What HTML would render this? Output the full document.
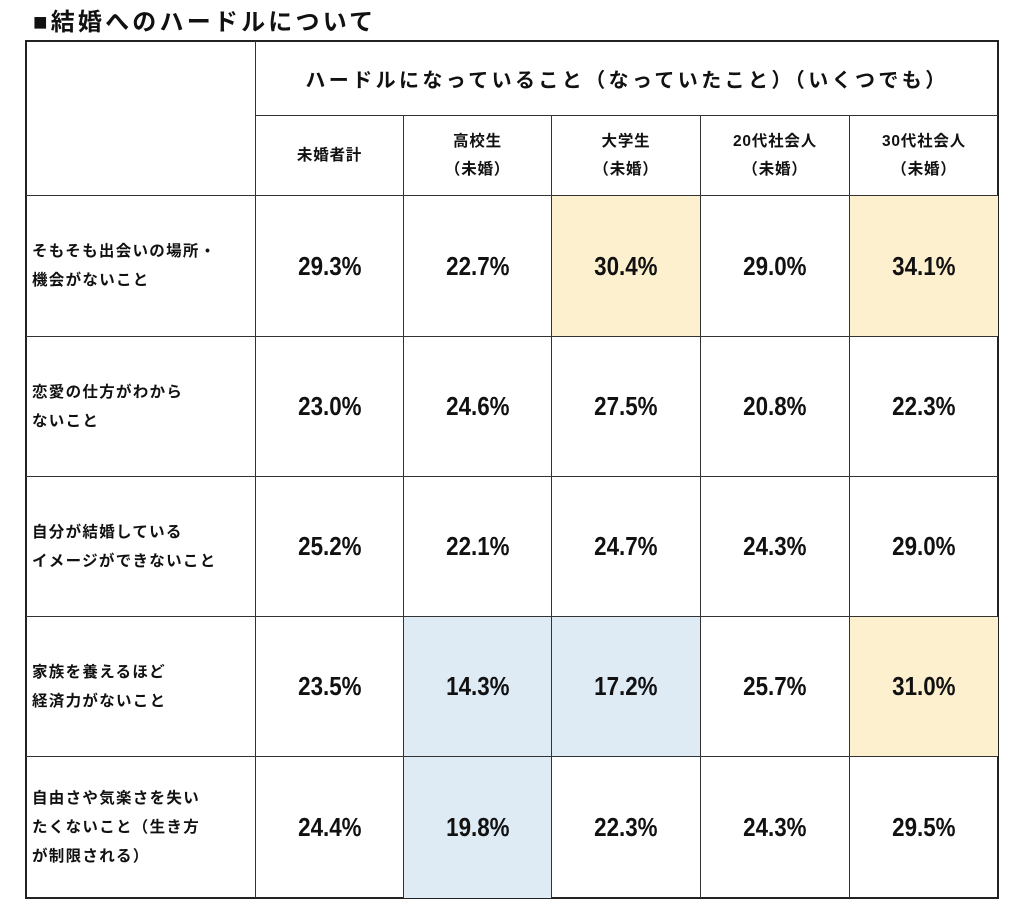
<!DOCTYPE html>
<html><head><meta charset="utf-8"><style>
body{margin:0;background:#fff;width:1024px;height:920px;position:relative;overflow:hidden;font-family:"Liberation Sans","Noto Sans CJK JP",sans-serif;color:#111}
.t{position:absolute;left:33px;top:2px;font-size:24px;font-weight:bold;letter-spacing:3.2px}
.c{position:absolute;box-sizing:border-box;border-right:1px solid #333;border-bottom:1px solid #333;display:flex;align-items:center;justify-content:center;text-align:center}
.h{font-size:15.5px;line-height:28px;font-weight:bold;letter-spacing:0.8px}
.n{font-weight:bold;font-size:26px}
.n span{display:inline-block;transform:scaleX(0.86)}
.l{justify-content:flex-start;text-align:left;padding-left:6px;font-size:15.5px;line-height:29px;font-weight:bold;letter-spacing:1.3px}
.y{background:#fdf0cf}.b{background:#deeaf4}
#tbl{position:absolute;left:25px;top:40px;width:974px;height:859px;border:2px solid #222;box-sizing:border-box}
</style></head><body>
<div class="t">■結婚へのハードルについて</div>
<div id="tbl"></div>
<div class="c" style="left:26px;top:41px;width:230px;height:155px"></div>
<div class="c" style="left:256px;top:41px;width:742px;height:75px;font-size:20px;font-weight:bold;letter-spacing:3.4px;border-right:none">ハードルになっていること（なっていたこと）（いくつでも）</div>
<div id="g"></div>
<script>
var xs=[256,404,552,701,850,997];
var ys=[196,337,477,617,757,897];
var hd=["未婚者計","高校生<br>（未婚）","大学生<br>（未婚）","20代社会人<br>（未婚）","30代社会人<br>（未婚）"];
var lb=["そもそも出会いの場所・<br>機会がないこと","恋愛の仕方がわから<br>ないこと","自分が結婚している<br>イメージができないこと","家族を養えるほど<br>経済力がないこと","自由さや気楽さを失い<br>たくないこと（生き方<br>が制限される）"];
var d=[["29.3","22.7","30.4","29.0","34.1"],["23.0","24.6","27.5","20.8","22.3"],["25.2","22.1","24.7","24.3","29.0"],["23.5","14.3","17.2","25.7","31.0"],["24.4","19.8","22.3","24.3","29.5"]];
var col=[["","","y","","y"],["","","","",""],["","","","",""],["","b","b","","y"],["","b","","",""]];
var h="";
for(var j=0;j<5;j++){var br=j==4?"border-right:none;":"";h+='<div class="c h" style="'+br+'left:'+xs[j]+'px;top:116px;width:'+(xs[j+1]-xs[j]+(j==4?1:0))+'px;height:80px">'+hd[j]+'</div>';}
for(var i=0;i<5;i++){var bb=i==4?"border-bottom:none;":"";var hh=ys[i+1]-ys[i]+(i==4?1:0);
h+='<div class="c l" style="'+bb+'left:26px;top:'+ys[i]+'px;width:230px;height:'+hh+'px">'+lb[i]+'</div>';
for(var j=0;j<5;j++){var br=j==4?"border-right:none;":"";h+='<div class="c n '+col[i][j]+'" style="'+bb+br+'left:'+xs[j]+'px;top:'+ys[i]+'px;width:'+(xs[j+1]-xs[j]+(j==4?1:0))+'px;height:'+hh+'px"><span>'+d[i][j]+'%</span></div>';}}
document.getElementById("g").innerHTML=h;
</script>
</body></html>
